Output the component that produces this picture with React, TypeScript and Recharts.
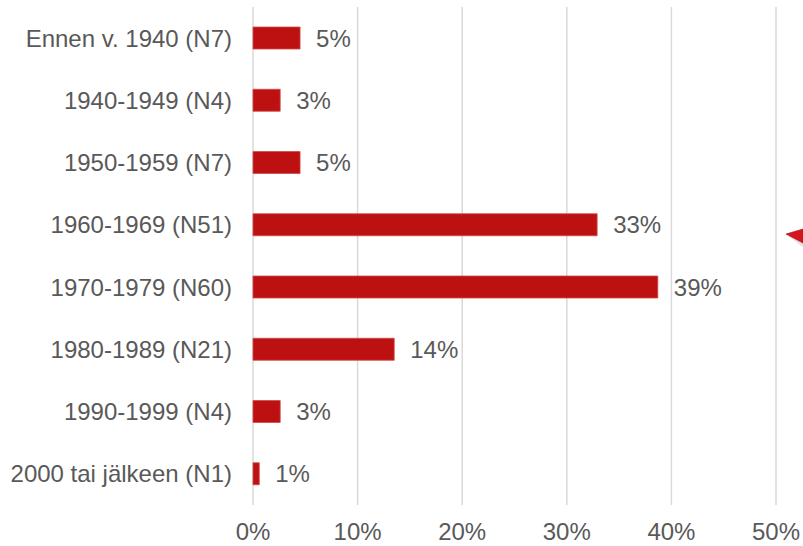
import React from 'react';
import { BarChart, Bar, XAxis, YAxis, CartesianGrid, LabelList } from 'recharts';

// decades of construction, share of buildings
const categories = [
  'Ennen v. 1940 (N7)',
  '1940-1949 (N4)',
  '1950-1959 (N7)',
  '1960-1969 (N51)',
  '1970-1979 (N60)',
  '1980-1989 (N21)',
  '1990-1999 (N4)',
  '2000 tai jälkeen (N1)',
];
const shares = [4.5, 2.6, 4.5, 32.9, 38.7, 13.5, 2.6, 0.6];
const xTicks = [0, 10, 20, 30, 40, 50];

const data = categories.map((name, i) => ({ name, value: shares[i] }));

const textGray = '#595959';
const font = 'Arial, "Liberation Sans", sans-serif';
const fs = 24;

export default function App() {
  return (
    <div style={{ position: 'absolute', left: 0, top: 0, width: 803, height: 546, background: '#fff', fontFamily: font }}>
      <BarChart
        width={803}
        height={546}
        data={data}
        layout="vertical"
        margin={{ top: 7, right: 27, bottom: 0, left: 0 }}
      >
        <CartesianGrid horizontal={false} stroke="#D9D9D9" strokeWidth={1.5} />
        <XAxis
          type="number"
          domain={[0, 50]}
          ticks={xTicks}
          tickFormatter={(v: number) => `${v}%`}
          axisLine={false}
          tickLine={false}
          height={41}
          tickMargin={12}
          tick={{ fill: textGray, fontSize: fs, fontFamily: font }}
        />
        <YAxis
          type="category"
          dataKey="name"
          width={253}
          axisLine={false}
          tickLine={false}
          tickMargin={15}
          interval={0}
          tick={{ fill: textGray, fontSize: fs, fontFamily: font }}
        />
        <Bar dataKey="value" fill="#BD1010" stroke="#D24A4A" strokeWidth={0.8} barSize={22} isAnimationActive={false}>
          <LabelList
            dataKey="value"
            position="right"
            offset={16}
            formatter={(v: number) => `${Math.round(v)}%`}
            style={{ fill: textGray, fontSize: fs, fontFamily: font }}
          />
        </Bar>
      </BarChart>
      <svg width={803} height={546} style={{ position: 'absolute', left: 0, top: 0, pointerEvents: 'none' }}>
        <polygon points="788,236 803,232 803,247" fill="#000" opacity={0.12} />
        <polygon points="786,234 803,229 803,243" fill="#D7141E" stroke="#B00A12" strokeWidth={0.6} />
      </svg>
    </div>
  );
}
